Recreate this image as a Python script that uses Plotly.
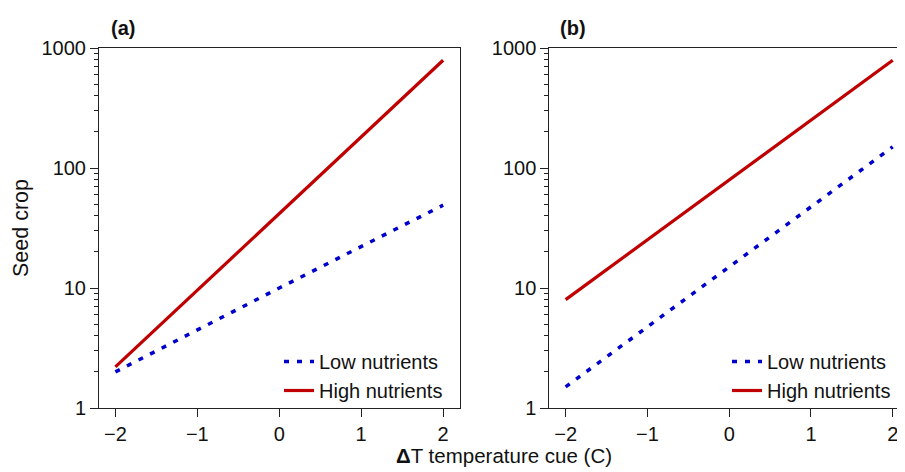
import plotly.graph_objects as go

# ---- data ----
x_vals = [-2, 0, 2]
a_low = [2.0, 10.0, 49.0]
a_high = [2.2, 42.0, 790.0]
b_low = [1.5, 15.0, 150.0]
b_high = [8.0, 80.0, 790.0]
series_names = ["Low nutrients", "High nutrients"]
y_tickvals = [1, 10, 100, 1000]
y_ticktext = ["1", "10", "100", "1000"]
x_tickvals = [-2, -1, 0, 1, 2]
minor_vals = [m * d for d in (1, 10, 100) for m in range(2, 10)]

FONT = "Liberation Sans, Arial, sans-serif"
BLUE = "#0000CC"
RED = "#C00000"
AX = "#222222"

fig = go.Figure()
low_line = dict(color=BLUE, width=3.5, dash="5px,8px")
high_line = dict(color=RED, width=3.2)

fig.add_trace(go.Scatter(x=x_vals, y=a_low, mode="lines", name=series_names[0],
                         line=low_line, xaxis="x", yaxis="y", legend="legend"))
fig.add_trace(go.Scatter(x=x_vals, y=a_high, mode="lines", name=series_names[1],
                         line=high_line, xaxis="x", yaxis="y", legend="legend"))
fig.add_trace(go.Scatter(x=x_vals, y=b_low, mode="lines", name=series_names[0],
                         line=low_line, xaxis="x2", yaxis="y2", legend="legend2"))
fig.add_trace(go.Scatter(x=x_vals, y=b_high, mode="lines", name=series_names[1],
                         line=high_line, xaxis="x2", yaxis="y2", legend="legend2"))

xcommon = dict(tickvals=x_tickvals, ticks="outside", ticklen=8, tickwidth=1,
               tickcolor=AX, showline=True, linecolor=AX, linewidth=1,
               showgrid=False, zeroline=False, mirror=True,
               tickfont=dict(family=FONT, size=20, color="#111"))
ycommon = dict(type="log", range=[0, 3], tickvals=y_tickvals, ticktext=y_ticktext,
               ticks="outside", ticklen=8, tickwidth=1, tickcolor=AX,
               showline=True, linecolor=AX, linewidth=1, showgrid=False,
               zeroline=False,
               minor=dict(tickvals=minor_vals, ticks="outside", ticklen=4,
                          tickwidth=1, tickcolor=AX, showgrid=False),
               tickfont=dict(family=FONT, size=20, color="#111"))

# page body has an 8px margin; work in page pixel coordinates
OFF = 8
PAGE_W, PAGE_H = 905, 472
W, H = PAGE_W - OFF, PAGE_H - OFF
PL, PT, PB = 99, 48, 408      # plot-area edges in page pixels
L = PL - OFF
T = PT - OFF
B = H - (PB - OFF)
R = 0
pw = W - L - R
ph = H - T - B

def px(p):
    return (p - OFF - L) / pw

def py(p):
    return (PB - p) / ph

legend_common = dict(font=dict(family=FONT, size=20, color="#111"),
                     bgcolor="rgba(0,0,0,0)", borderwidth=0,
                     xanchor="left", yanchor="middle", tracegroupgap=0,
                     itemwidth=30)

fig.update_layout(
    width=W, height=H,
    margin=dict(l=L, r=R, t=T, b=B, autoexpand=False),
    paper_bgcolor="white", plot_bgcolor="white",
    font=dict(family=FONT, size=20, color="#111"),
    xaxis=dict(domain=[0, px(459.5)], range=[-2.2, 2.2], anchor="y", **xcommon),
    yaxis=dict(domain=[0, 1], anchor="x", mirror=True, **ycommon),
    xaxis2=dict(domain=[px(549.3), 1], range=[-2.2, 2.15], anchor="y2", **xcommon),
    yaxis2=dict(domain=[0, 1], anchor="x2", mirror=False, **ycommon),
    legend=dict(x=px(279), y=py(376), **legend_common),
    legend2=dict(x=px(727), y=py(376), **legend_common),
    showlegend=True,
    annotations=[
        dict(text="<b>(a)</b>", x=px(123), y=py(28), xref="paper", yref="paper",
             showarrow=False, font=dict(family=FONT, size=20, color="#111"),
             xanchor="center", yanchor="middle"),
        dict(text="<b>(b)</b>", x=px(573), y=py(28), xref="paper", yref="paper",
             showarrow=False, font=dict(family=FONT, size=20, color="#111"),
             xanchor="center", yanchor="middle"),
        dict(text="<b>Δ</b>T temperature cue (C)", x=px(504), y=py(455),
             xref="paper", yref="paper", showarrow=False,
             font=dict(family=FONT, size=20.5, color="#111"),
             xanchor="center", yanchor="middle"),
        dict(text="Seed crop", x=px(21), y=py(228), xref="paper", yref="paper",
             showarrow=False, textangle=-90,
             font=dict(family=FONT, size=21.5, color="#111"),
             xanchor="center", yanchor="middle"),
    ],
)

fig.write_html("out.html")
